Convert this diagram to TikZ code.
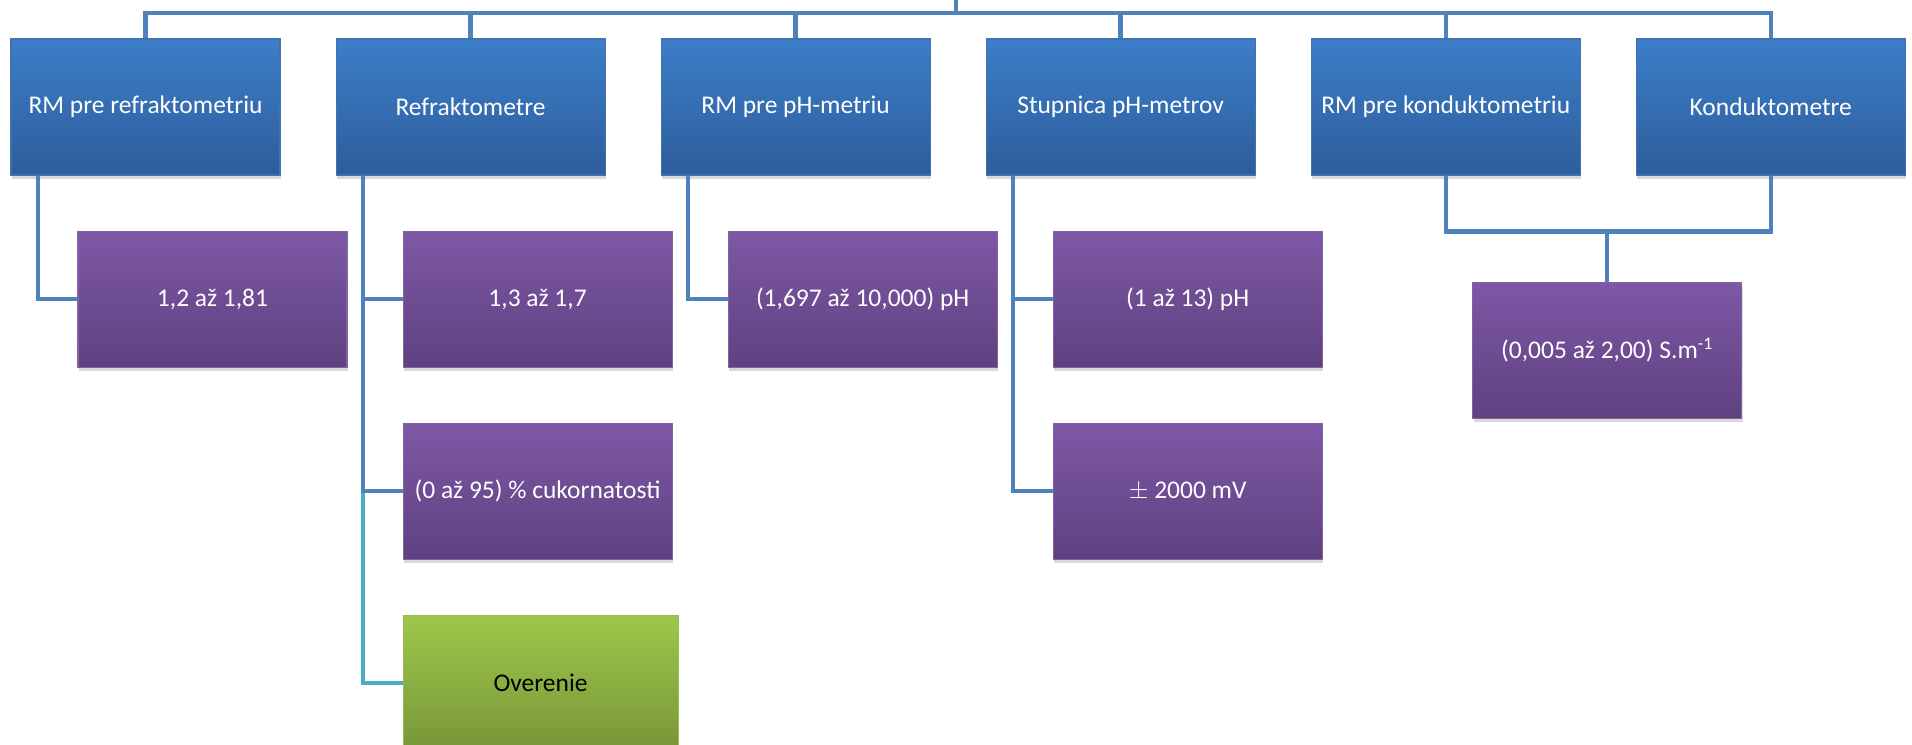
\documentclass[tikz,border=0pt]{standalone}
\usepackage{fontspec}
\setmainfont{Carlito}
\usepackage{tikz}
\usetikzlibrary{positioning, calc, shadows}
\definecolor{bluetop}{RGB}{60,126,200}
\definecolor{bluebot}{RGB}{45,93,155}
\definecolor{blueedge}{RGB}{65,113,175}
\definecolor{violtop}{RGB}{125,88,166}
\definecolor{violbot}{RGB}{95,65,128}
\definecolor{violedge}{RGB}{128,100,162}
\definecolor{greentop}{RGB}{158,199,74}
\definecolor{greenbot}{RGB}{119,150,56}
\definecolor{greenedge}{RGB}{155,187,89}
\definecolor{linkblue}{RGB}{79,129,189}
\definecolor{linkcyan}{RGB}{75,172,198}
\tikzstyle{topbox} = [draw=blueedge, line width=0.6pt, rectangle,
    top color=bluetop, bottom color=bluebot, text=white,
    minimum width=5.38cm, minimum height=2.72cm, inner sep=0pt,
    font=\fontsize{14.5}{17}\selectfont,
    drop shadow={shadow xshift=0.02cm, shadow yshift=-0.07cm, opacity=0.3}]
\tikzstyle{valbox} = [topbox, draw=violedge, top color=violtop, bottom color=violbot]
\tikzstyle{verbox} = [topbox, draw=greenedge, top color=greentop, bottom color=greenbot,
    text=black, minimum width=5.5cm]
\tikzstyle{link} = [draw=linkblue, line width=2.5pt]
\tikzstyle{linkc} = [draw=linkcyan, line width=2.5pt]

\begin{document}
\begin{tikzpicture}

            \useasboundingbox (0,0) rectangle (38.24,-14.88);

            % Top row
            \node (rmref) [topbox] at (2.91,-2.14) {RM pre refraktometriu};
            \node (refr) [topbox, right=1.1cm of rmref] {Refraktometre};
            \node (rmph) [topbox, right=1.1cm of refr] {RM pre pH-metriu};
            \node (stph) [topbox, right=1.1cm of rmph] {Stupnica pH-metrov};
            \node (rmkon) [topbox, right=1.1cm of stph] {RM pre konduktometriu};
            \node (kond) [topbox, right=1.1cm of rmkon] {Konduktometre};

            % Values
            \node (vref) [valbox, below=1.1cm of rmref, xshift=1.34cm] {1,2 až 1,81};
            \node (vrefa) [valbox, below=1.1cm of refr, xshift=1.34cm] {1,3 až 1,7};
            \node (vrefb) [valbox, below=1.1cm of vrefa] {(0 až 95) \% cukornatosti};
            \node (over) [verbox, below=1.1cm of vrefb, xshift=0.06cm] {Overenie};
            \node (vph) [valbox, below=1.1cm of rmph, xshift=1.34cm] {(1,697 až 10,000) pH};
            \node (vsta) [valbox, below=1.1cm of stph, xshift=1.34cm] {(1 až 13) pH};
            \node (vstb) [valbox, below=1.1cm of vsta] {$\pm$ 2000 mV};
            \node (vkon) [valbox, below=2.12cm of rmkon, xshift=3.23cm] {(0,005 až 2,00) S.m\textsuperscript{-1}};

            % Connectors
            \coordinate (root) at (19.12,0.1);
            \coordinate (bus) at (19.12,-0.26);
            \draw [link] (root) -- (bus);
            \foreach \n in {rmref, refr, rmph, stph, rmkon, kond}
                \draw [link] (bus) -| (\n.north);

            \coordinate (lref) at ($(rmref.south west)+(0.55,0)$);
            \coordinate (lrefr) at ($(refr.south west)+(0.55,0)$);
            \coordinate (lph) at ($(rmph.south west)+(0.55,0)$);
            \coordinate (lst) at ($(stph.south west)+(0.55,0)$);
            \draw [link] (lref) |- (vref.west);
            \draw [linkc] (lrefr |- vrefb.west) |- (over.west);
            \draw [link] (lrefr) |- (vrefa.west);
            \draw [link] (lrefr) |- (vrefb.west);
            \draw [link] (lph) |- (vph.west);
            \draw [link] (lst) |- (vsta.west);
            \draw [link] (lst) |- (vstb.west);

            \coordinate (kbus) at ($(vkon.north)+(0,1.0)$);
            \draw [link] (rmkon.south) |- (kbus) -| (kond.south);
            \draw [link] (kbus) -- (vkon.north);

\end{tikzpicture}
\end{document}
